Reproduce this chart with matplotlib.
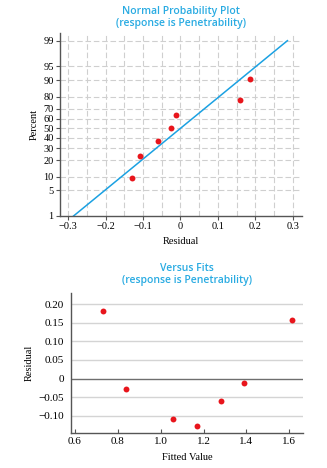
import numpy as np
import matplotlib.pyplot as plt
from matplotlib.scale import FuncScale
from statistics import NormalDist

fitted = np.array([0.73, 0.84, 1.055, 1.17, 1.28, 1.39, 1.615])
residual = np.array([0.182, -0.028, -0.108, -0.129, -0.060, -0.013, 0.157])

# normal probability plot points (sorted residual, percent)
prob_resid = np.array([-0.129, -0.108, -0.060, -0.026, -0.012, 0.158, 0.185])
prob_pct = np.array([9.5, 23, 36.5, 50, 63.5, 77, 90.5])

pct_ticks = [1, 5, 10, 20, 30, 40, 50, 60, 70, 80, 90, 95, 99]
resid_ticks = [-0.3, -0.2, -0.1, 0, 0.1, 0.2, 0.3]
fit_ticks = [0.6, 0.8, 1.0, 1.2, 1.4, 1.6]
vres_ticks = [-0.10, -0.05, 0, 0.05, 0.10, 0.15, 0.20]
vres_labels = ['\u22120.10', '\u22120.05', '0', '0.05', '0.10', '0.15', '0.20']

nd = NormalDist()
title_c = '#29abe2'
line_c = '#1ba1e2'
dot_c = '#e8151c'
serif = 'Liberation Serif'
sans = 'Open Sans'


def fwd(p):
    p = np.clip(np.asarray(p, dtype=float), 1e-6, 100 - 1e-6)
    return np.array([nd.inv_cdf(v / 100) for v in np.ravel(p)]).reshape(np.shape(p))


def inv(z):
    z = np.asarray(z, dtype=float)
    return np.array([nd.cdf(v) * 100 for v in np.ravel(z)]).reshape(np.shape(z))


fig = plt.figure(figsize=(3.27, 4.68), dpi=100)

# ---- normal probability plot ----
ax1 = fig.add_axes([0.1835, 0.5385, 0.74, 0.391])
ax1.set_yscale(FuncScale(ax1, (fwd, inv)))
ax1.set_ylim(1, inv(2.53))
ax1.set_xlim(-0.322, 0.325)

for x in np.arange(-0.3, 0.31, 0.05):
    ax1.axvline(x, color='#cfcfcf', lw=0.8, ls=(0, (5, 2.5)), zorder=0)
for p in pct_ticks[1:]:
    ax1.axhline(p, color='#cfcfcf', lw=0.8, ls=(0, (5, 2.5)), zorder=0)

mu = residual.mean()
sd = residual.std(ddof=1)
zz = np.linspace(nd.inv_cdf(0.01), nd.inv_cdf(0.99), 50)
ax1.plot(mu + sd * zz, inv(zz), color=line_c, lw=1.1, zorder=2)
ax1.scatter(prob_resid, prob_pct, s=18, color=dot_c, zorder=3, lw=0)

ax1.set_yticks(pct_ticks)
ax1.set_yticklabels([str(p) for p in pct_ticks])
ax1.set_xticks(resid_ticks)
ax1.set_xticklabels(['\u22120.3', '\u22120.2', '\u22120.1', '0', '0.1', '0.2', '0.3'])
ax1.yaxis.set_minor_locator(plt.NullLocator())
ax1.tick_params(labelsize=7.5, length=3, width=0.8, color='#555555', pad=1.5)
for lab in ax1.get_xticklabels() + ax1.get_yticklabels():
    lab.set_fontfamily(serif)
for s in ['top', 'right']:
    ax1.spines[s].set_visible(False)
for s in ['left', 'bottom']:
    ax1.spines[s].set_color('#555555')
    ax1.spines[s].set_linewidth(1.0)
ax1.set_xlabel('Residual', fontfamily=serif, fontsize=7.5, labelpad=4)
ax1.set_ylabel('Percent', fontfamily=serif, fontsize=7.5, labelpad=3)
ax1.set_title('Normal Probability Plot\n(response is Penetrability)', color=title_c,
              fontfamily=sans, fontweight='semibold', fontsize=7.5, linespacing=1.15, pad=5)

# ---- versus fits ----
ax2 = fig.add_axes([0.217, 0.0748, 0.7095, 0.299])
ax2.set_xlim(0.581, 1.664)
ax2.set_ylim(-0.1466, 0.23)
for v in vres_ticks:
    if v != 0:
        ax2.axhline(v, color='#d4d4d4', lw=1.0, zorder=0)
ax2.axhline(0, color='#6e6e6e', lw=1.0, zorder=1)
ax2.scatter(fitted, residual, s=18, color=dot_c, zorder=3, lw=0)

ax2.set_yticks(vres_ticks)
ax2.set_yticklabels(vres_labels)
ax2.set_xticks(fit_ticks)
ax2.set_xticklabels(['0.6', '0.8', '1.0', '1.2', '1.4', '1.6'])
ax2.tick_params(axis='y', length=0, pad=5, labelsize=8)
ax2.tick_params(axis='x', direction='in', length=3, width=0.8, color='#555555', pad=3, labelsize=8)
for lab in ax2.get_xticklabels() + ax2.get_yticklabels():
    lab.set_fontfamily(serif)
for s in ['top', 'right']:
    ax2.spines[s].set_visible(False)
for s in ['left', 'bottom']:
    ax2.spines[s].set_color('#555555')
    ax2.spines[s].set_linewidth(1.0)
ax2.set_xlabel('Fitted Value', fontfamily=serif, fontsize=7.5, labelpad=5)
ax2.set_ylabel('Residual', fontfamily=serif, fontsize=7.5, labelpad=3)
ax2.set_title('Versus Fits\n(response is Penetrability)', color=title_c,
              fontfamily=sans, fontweight='semibold', fontsize=7.5, linespacing=1.15, pad=7)

fig.savefig('out.png', dpi=100)
